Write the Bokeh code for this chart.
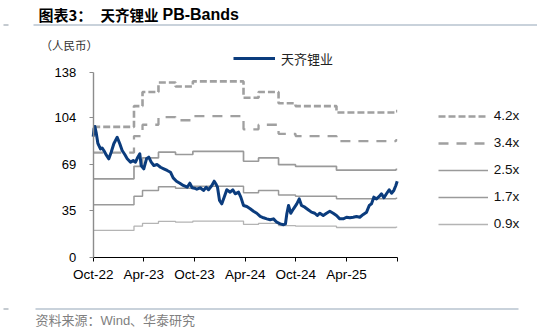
from bokeh.plotting import figure
from bokeh.models import Range1d, FixedTicker, Label, Legend, LegendItem, Arrow
from bokeh.embed import file_html
from bokeh.resources import INLINE

# ---------------- data ----------------
# months since Oct-2022
price_months = [0.0, 0.1, 0.2, 0.35, 0.55, 0.86, 1.05, 1.26, 1.58, 1.85, 2.13, 2.44, 2.84,
                3.15, 3.43, 3.74, 4.03, 4.42, 4.74, 5.01, 5.28, 5.52, 5.68, 5.99, 6.31,
                6.58, 6.87, 7.18, 7.58, 7.97, 8.36, 8.76, 9.15, 9.47, 9.86, 10.26, 10.66,
                11.13, 11.44, 11.72, 12.0, 12.27, 12.67, 13.06, 13.38, 13.65, 14.05, 14.33,
                14.57, 14.72, 14.96, 15.23, 15.51, 15.82, 16.22, 16.53, 16.82, 17.21, 17.48,
                17.8, 18.19, 18.59, 18.98, 19.37, 19.78, 20.17, 20.56, 20.96, 21.35, 21.74,
                22.15, 22.54, 22.77, 22.93, 23.13, 23.4, 23.72, 24.11, 24.4, 24.67, 25.06,
                25.46, 25.85, 26.24, 26.53, 26.84, 27.24, 27.63, 28.02, 28.42, 28.81, 29.2,
                29.61, 30.0, 30.39, 30.79, 31.18, 31.57, 31.98, 32.37, 32.69, 32.96, 33.23,
                33.55, 33.87, 34.14, 34.42, 34.73, 35.05, 35.33, 35.6, 35.84, 36.0]
price = [90.0, 96.0, 97.5, 93.0, 85.0, 80.8, 81.5, 79.6, 75.9, 73.4, 78.3, 84.6, 89.5,
         84.6, 79.6, 76.6, 73.4, 70.9, 72.1, 70.9, 74.6, 77.1, 68.4, 65.9, 73.4,
         74.6, 70.9, 68.4, 69.1, 67.1, 65.9, 64.7, 63.4, 59.2, 56.7, 55.2, 53.5,
         52.2, 55.2, 51.8, 51.5, 50.7, 51.8, 49.8, 52.2, 50.3, 53.5, 56.7,
         54.2, 52.2, 42.3, 39.8, 44.8, 50.3, 48.5, 50.3, 47.3, 48.5, 44.8,
         38.6, 37.8, 36.1, 34.3, 32.8, 30.4, 29.4, 28.6, 27.9, 28.6, 26.1,
         24.9, 24.2, 24.9, 32.4, 38.6, 32.8, 36.1, 39.8, 43.5, 38.6, 37.3,
         35.4, 33.6, 32.8, 31.1, 32.8, 31.1, 32.8, 34.3, 32.8, 31.1, 28.6,
         28.6, 29.8, 29.4, 29.8, 30.4, 29.8, 31.9, 33.6, 38.6, 39.8, 44.8,
         43.5, 45.3, 47.3, 44.3, 47.3, 50.3, 47.7, 49.8, 53.5, 56.7]

# book value per share, step changes (months since Oct-2022)
bps_months = [0.0, 4.83, 5.84, 7.73, 9.75, 11.8, 17.8, 19.58, 21.95, 23.96, 28.81, 35.85, 36.0]
bps = [23.2, 26.9, 29.4, 31.1, 30.4, 31.3, 28.4, 29.4, 27.4, 26.9, 25.75, 26.0, 26.0]

band_names = ["4.2x", "3.4x", "2.5x", "1.7x", "0.9x"]
band_mult = [4.19, 3.36, 2.52, 1.69, 0.86]

tick_months = [0, 6, 12, 18, 24, 30, 36]
tick_labels = ["Oct-22", "Apr-23", "Oct-23", "Apr-24", "Oct-24", "Apr-25", ""]
y_ticks = [0, 35, 69, 104, 138]

# ---------------- layout ----------------
W, H = 537, 332
# pixel box of the data area inside the page
PL, PR, PT, PB = 92.7, 396.7, 71.7, 256.7
DX0, DX1, DY0, DY1 = 0, 36, 0, 138
sx = (PR - PL) / (DX1 - DX0)
sy = (PB - PT) / (DY1 - DY0)
x_range = Range1d(DX0 - PL / sx, DX1 + (W - PR) / sx)
y_range = Range1d(DY0 - (H - PB) / sy, DY1 + PT / sy)


def dx(px):
    return DX0 + (px - PL) / sx


def dy(py):
    return DY0 + (PB - py) / sy


p = figure(width=W, height=H, output_backend="svg", toolbar_location=None,
           x_range=x_range, y_range=y_range,
           min_border_left=0, min_border_right=0, min_border_top=0, min_border_bottom=0)
p.outline_line_color = None
p.xgrid.visible = False
p.ygrid.visible = False
p.background_fill_color = "white"
p.border_fill_color = "white"

NUM_FONT = "Liberation Sans"
CJK = "Noto Sans CJK SC"
MIX = "Liberation Sans, Noto Sans CJK SC"

# axes (kept in their side panels, drawn at the data origin)
p.xaxis.fixed_location = 0
p.yaxis.fixed_location = 0
p.xaxis.bounds = (DX0, DX1)
p.yaxis.bounds = (DY0, DY1)
p.xaxis.ticker = FixedTicker(ticks=tick_months)
p.xaxis.major_label_overrides = {m: t for m, t in zip(tick_months, tick_labels)}
p.xaxis.axis_line_color = "black"
p.xaxis.axis_line_width = 1
p.xaxis.major_tick_line_color = "black"
p.xaxis.major_tick_out = 4
p.xaxis.major_tick_in = 0
p.xaxis.minor_tick_line_color = None
p.xaxis.major_label_text_font = NUM_FONT
p.xaxis.major_label_text_font_size = "13.5px"
p.xaxis.major_label_text_color = "black"
p.xaxis.major_label_standoff = 6

p.yaxis.ticker = FixedTicker(ticks=y_ticks)
p.yaxis.axis_line_color = "#8C8C8C"
p.yaxis.axis_line_width = 1.4
p.yaxis.major_tick_line_color = "#8C8C8C"
p.yaxis.major_tick_line_width = 1.2
p.yaxis.major_tick_out = 4
p.yaxis.major_tick_in = 0
p.yaxis.minor_tick_line_color = None
p.yaxis.major_label_text_font = NUM_FONT
p.yaxis.major_label_text_font_size = "13px"
p.yaxis.major_label_text_color = "black"
p.yaxis.major_label_standoff = 13

# bands
band_styles = {
    "4.2x": dict(line_color="#A0A0A0", line_width=2.6, line_dash="7 3"),
    "3.4x": dict(line_color="#A0A0A0", line_width=2.3, line_dash="10 8"),
    "2.5x": dict(line_color="#9A9A9A", line_width=1.7),
    "1.7x": dict(line_color="#9A9A9A", line_width=1.5),
    "0.9x": dict(line_color="#B4B4B4", line_width=1.3),
}
band_items = []
for name, mult in zip(band_names, band_mult):
    vals = [b * mult for b in bps]
    r = p.step(bps_months, vals, mode="after", **band_styles[name])
    band_items.append(LegendItem(label=name, renderers=[r]))

price_r = p.line(price_months, price, line_color="#0B3C7D", line_width=3, line_join="round")

# legends (location = bottom-left corner, pixels from the page's bottom-left)
leg_price = Legend(items=[LegendItem(label="天齐锂业", renderers=[price_r])],
                   location=(233, H - 68.3), glyph_width=42, glyph_height=20, label_height=20,
                   label_standoff=6, padding=0, margin=0, spacing=0,
                   border_line_alpha=0, background_fill_alpha=0,
                   label_text_font=CJK, label_text_font_size="13px", label_text_color="#222222")
p.add_layout(leg_price, "center")

leg_bands = Legend(items=band_items, location=(437.7, H - 233.5), glyph_width=50, glyph_height=20,
                   label_height=20, label_standoff=6, padding=0, margin=0, spacing=7,
                   border_line_alpha=0, background_fill_alpha=0,
                   label_text_font=NUM_FONT, label_text_font_size="13.5px", label_text_color="#111111")
p.add_layout(leg_bands, "center")


# texts
def add_label(px, py, text, font, size, color="black", style="normal"):
    p.add_layout(Label(x=dx(px), y=dy(py), text=text, text_font=font, text_font_size=size,
                       text_color=color, text_font_style=style, text_baseline="middle",
                       text_align="left"))


add_label(38, 14, "图表3：", CJK, "15px", style="bold")
add_label(100, 14, "天齐锂业", CJK, "14.5px", style="bold")
add_label(162, 14, "PB-Bands", NUM_FONT, "16px", style="bold")
add_label(40, 44, "（人民币）", CJK, "11.5px", color="#333333")
add_label(35, 320, "资料来源：Wind、华泰研究", MIX, "13px", color="#808080")

# rules
for (xs, xe, yy) in [(33, 537, 24.5), (35, 518, 308.5)]:
    p.add_layout(Arrow(end=None, start=None, x_start=dx(xs), y_start=dy(yy), x_end=dx(xe),
                       y_end=dy(yy), line_color="#B7C3CF", line_width=1.5))
for yy in [24.5, 308.5]:
    p.add_layout(Arrow(end=None, start=None, x_start=dx(3), y_start=dy(yy), x_end=dx(8),
                       y_end=dy(yy), line_color="#B0B8C0", line_width=1.5))

open("out.html", "w").write(file_html(p, INLINE))
